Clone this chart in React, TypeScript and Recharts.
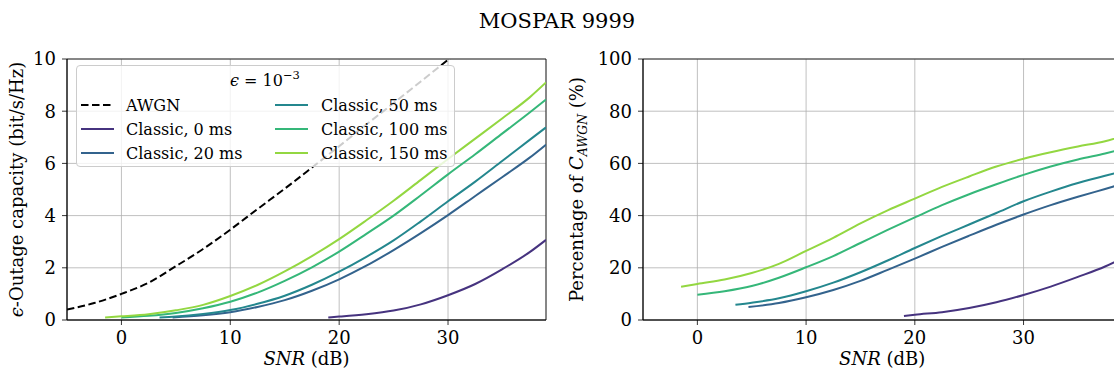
import React from 'react';
import { LineChart, Line, XAxis, YAxis, CartesianGrid, ReferenceArea, Label } from 'recharts';

const FONT = '"DejaVu Serif", serif';

const chartTitle = 'MOSPAR 9999';
const xTicks = [0, 10, 20, 30];
const capTicks = [0, 2, 4, 6, 8, 10];
const pctTicks = [0, 20, 40, 60, 80, 100];

const awgnSnr = [-5, -2.5, 0, 2.5, 5, 7.5, 10, 12.5, 15, 17.5, 20, 22.5, 25, 27.5, 30, 32.5];
const awgnCap = [0.4, 0.65, 1.0, 1.43, 2.06, 2.72, 3.46, 4.25, 5.03, 5.84, 6.66, 7.49, 8.31, 9.14, 9.97, 10.8];

const snr0 = [19, 20, 22.5, 25, 27.5, 30, 32.5, 35, 37.5, 39];
const cap0 = [0.1, 0.13, 0.22, 0.36, 0.6, 0.95, 1.38, 1.95, 2.6, 3.07];
const pct0 = [1.5, 2, 3, 4.6, 6.8, 9.6, 12.8, 16.5, 20.5, 23.5];

const snr20 = [4.7, 7.5, 10, 12.5, 15, 17.5, 20, 22.5, 25, 27.5, 30, 32.5, 35, 37.5, 39];
const cap20 = [0.1, 0.18, 0.3, 0.5, 0.76, 1.12, 1.56, 2.08, 2.68, 3.33, 4.02, 4.75, 5.48, 6.22, 6.72];
const pct20 = [5, 6.5, 8.7, 11.5, 15, 19.2, 23.5, 28, 32.3, 36.5, 40.4, 44, 47.2, 50.2, 52];

const snr50 = [3.5, 5, 7.5, 10, 12.5, 15, 17.5, 20, 22.5, 25, 27.5, 30, 32.5, 35, 37.5, 39];
const cap50 = [0.1, 0.13, 0.23, 0.38, 0.62, 0.93, 1.35, 1.85, 2.42, 3.05, 3.78, 4.55, 5.3, 6.1, 6.9, 7.38];
const pct50 = [5.8, 6.6, 8.3, 11, 14.3, 18.3, 22.8, 27.6, 32.2, 36.6, 41, 45.5, 49.2, 52.5, 55.3, 56.8];

const snr100 = [0, 2.5, 5, 7.5, 10, 12.5, 15, 17.5, 20, 22.5, 25, 27.5, 30, 32.5, 35, 37.5, 39];
const cap100 = [0.1, 0.16, 0.27, 0.45, 0.7, 1.05, 1.5, 2.02, 2.62, 3.3, 4.0, 4.78, 5.58, 6.35, 7.15, 7.95, 8.45];
const pct100 = [9.7, 11, 13, 16.2, 20.2, 24.5, 29.5, 34.5, 39.3, 44, 48.2, 52, 55.6, 58.8, 61.5, 63.8, 65.3];

const snr150 = [-1.5, 0, 2.5, 5, 7.5, 10, 12.5, 15, 17.5, 20, 22.5, 25, 27.5, 30, 32.5, 35, 37.5, 39];
const cap150 = [0.1, 0.14, 0.22, 0.37, 0.58, 0.92, 1.34, 1.86, 2.45, 3.1, 3.82, 4.57, 5.37, 6.17, 6.95, 7.73, 8.53, 9.1];
const pct150 = [12.7, 13.8, 15.5, 18, 21.5, 26.5, 31.5, 37, 42, 46.5, 51, 55, 58.8, 61.8, 64.3, 66.5, 68.5, 70.3];

const seriesNames = ['Classic, 0 ms', 'Classic, 20 ms', 'Classic, 50 ms', 'Classic, 100 ms', 'Classic, 150 ms'];
const seriesColors = ['#46337f', '#33638d', '#24878e', '#35b779', '#93d741'];

const zip = (xs: number[], ys: number[]) => xs.map((x, i) => ({ x, y: ys[i] }));

const capSeries = [zip(snr0, cap0), zip(snr20, cap20), zip(snr50, cap50), zip(snr100, cap100), zip(snr150, cap150)];
const pctSeries = [zip(snr0, pct0), zip(snr20, pct20), zip(snr50, pct50), zip(snr100, pct100), zip(snr150, pct150)];
const awgnData = zip(awgnSnr, awgnCap);

const TICK = { fill: '#000', fontSize: 18, fontFamily: FONT };
const AXLINE = { stroke: '#000', strokeWidth: 0.8 };

const XLabelContent = (props: any) => {
  const vb = props.viewBox || {};
  const cx = vb.x + vb.width / 2;
  return (
    <text x={cx} y={vb.y + 45} textAnchor="middle" fontFamily={FONT} fontSize={18} fill="#000">
      <tspan fontStyle="italic">SNR</tspan>
      <tspan> (dB)</tspan>
    </text>
  );
};

const makeYLabel = (kind: 'cap' | 'pct') => (props: any) => {
  const vb = props.viewBox || {};
  const cy = vb.y + vb.height / 2;
  const bx = 23;
  if (kind === 'cap') {
    return (
      <text x={bx} y={cy} textAnchor="middle" transform={`rotate(-90, ${bx}, ${cy})`} fontFamily={FONT} fontSize={18} fill="#000">
        <tspan fontStyle="italic">ϵ</tspan>
        <tspan>-Outage capacity (bit/s/Hz)</tspan>
      </text>
    );
  }
  return (
    <text x={bx} y={cy} textAnchor="middle" transform={`rotate(-90, ${bx}, ${cy})`} fontFamily={FONT} fontSize={18} fill="#000">
      <tspan>Percentage of </tspan>
      <tspan fontStyle="italic">C</tspan>
      <tspan fontStyle="italic" fontSize={12.5} dy={4}>AWGN</tspan>
      <tspan dy={-4}> (%)</tspan>
    </text>
  );
};

const CapChart = () => (
  <LineChart width={560} height={376} margin={{ top: 59, right: 14, bottom: 0, left: 0 }}>
    <CartesianGrid stroke="#b0b0b0" strokeWidth={0.8} />
    <XAxis type="number" dataKey="x" domain={[-5, 39]} ticks={xTicks} allowDataOverflow height={56}
      tickSize={5} tickMargin={6} tick={TICK} axisLine={AXLINE} tickLine={AXLINE}>
      <Label content={XLabelContent} />
    </XAxis>
    <YAxis type="number" dataKey="y" domain={[0, 10]} ticks={capTicks} allowDataOverflow width={67}
      tickSize={5} tickMargin={6} tick={TICK} axisLine={AXLINE} tickLine={AXLINE}>
      <Label content={makeYLabel('cap')} />
    </YAxis>
    <Line data={awgnData} dataKey="y" type="monotone" stroke="#000" strokeWidth={2} strokeDasharray="7.5 3.5"
      dot={false} activeDot={false} isAnimationActive={false} />
    {capSeries.map((d, i) => (
      <Line key={i} data={d} dataKey="y" type="monotone" stroke={seriesColors[i]} strokeWidth={2}
        dot={false} activeDot={false} isAnimationActive={false} />
    ))}
    <ReferenceArea x1={-5} x2={39} y1={0} y2={10} fill="none" fillOpacity={0} stroke="#000" strokeWidth={0.8} />
  </LineChart>
);

const PctChart = () => (
  <LineChart width={580} height={376} margin={{ top: 59, right: 18.6, bottom: 0, left: 0 }}>
    <CartesianGrid stroke="#b0b0b0" strokeWidth={0.8} />
    <XAxis type="number" dataKey="x" domain={[-5, 39]} ticks={xTicks} allowDataOverflow height={56}
      tickSize={5} tickMargin={6} tick={TICK} axisLine={AXLINE} tickLine={AXLINE}>
      <Label content={XLabelContent} />
    </XAxis>
    <YAxis type="number" dataKey="y" domain={[0, 100]} ticks={pctTicks} allowDataOverflow width={83}
      tickSize={5} tickMargin={6} tick={TICK} axisLine={AXLINE} tickLine={AXLINE}>
      <Label content={makeYLabel('pct')} />
    </YAxis>
    {pctSeries.map((d, i) => (
      <Line key={i} data={d} dataKey="y" type="monotone" stroke={seriesColors[i]} strokeWidth={2}
        dot={false} activeDot={false} isAnimationActive={false} />
    ))}
    <ReferenceArea x1={-5} x2={39} y1={0} y2={100} fill="none" fillOpacity={0} stroke="#000" strokeWidth={0.8} />
  </LineChart>
);

const LegendBox = () => {
  const rows = [
    { col: 0, row: 0, name: 'AWGN', color: '#000', dash: '7.5 3.5' },
    { col: 0, row: 1, name: seriesNames[0], color: seriesColors[0] },
    { col: 0, row: 2, name: seriesNames[1], color: seriesColors[1] },
    { col: 1, row: 0, name: seriesNames[2], color: seriesColors[2] },
    { col: 1, row: 1, name: seriesNames[3], color: seriesColors[3] },
    { col: 1, row: 2, name: seriesNames[4], color: seriesColors[4] },
  ];
  const left = 76;
  const top = 65;
  const colLine = [81, 275];
  const colText = [126, 321];
  const rowY = [105, 129, 153];
  return (
    <div style={{
      position: 'absolute', left, top, width: 379, height: 102, boxSizing: 'border-box',
      background: 'rgba(255,255,255,0.8)', border: '1px solid #cccccc', borderRadius: 4,
    }}>
      <svg width={379} height={102} style={{ position: 'absolute', left: -1, top: -1 }}>
        <text x={265 - left} y={86 - top} textAnchor="middle" fontFamily={FONT} fontSize={16} fill="#000">
          <tspan fontStyle="italic">ϵ</tspan>
          <tspan> = 10</tspan>
          <tspan fontSize={11.5} dy={-7}>−3</tspan>
        </text>
        {rows.map((r, i) => (
          <g key={i}>
            <line x1={colLine[r.col] - left} x2={colLine[r.col] + 33 - left} y1={rowY[r.row] - top} y2={rowY[r.row] - top}
              stroke={r.color} strokeWidth={2} strokeDasharray={r.dash} />
            <text x={colText[r.col] - left} y={rowY[r.row] - top + 6} fontFamily={FONT} fontSize={16} fill="#000">{r.name}</text>
          </g>
        ))}
      </svg>
    </div>
  );
};

export default function App() {
  return (
    <div style={{ position: 'fixed', left: 0, top: 0, width: 1114, height: 376, overflow: 'hidden', background: '#fff' }}>
      <svg width={1114} height={40} style={{ position: 'absolute', left: 0, top: 0 }}>
        <text x={557} y={28} textAnchor="middle" fontFamily={FONT} fontSize={21} fill="#000">{chartTitle}</text>
      </svg>
      <div style={{ position: 'absolute', left: 0, top: 0 }}>
        <CapChart />
      </div>
      <div style={{ position: 'absolute', left: 560, top: 0 }}>
        <PctChart />
      </div>
      <LegendBox />
    </div>
  );
}
